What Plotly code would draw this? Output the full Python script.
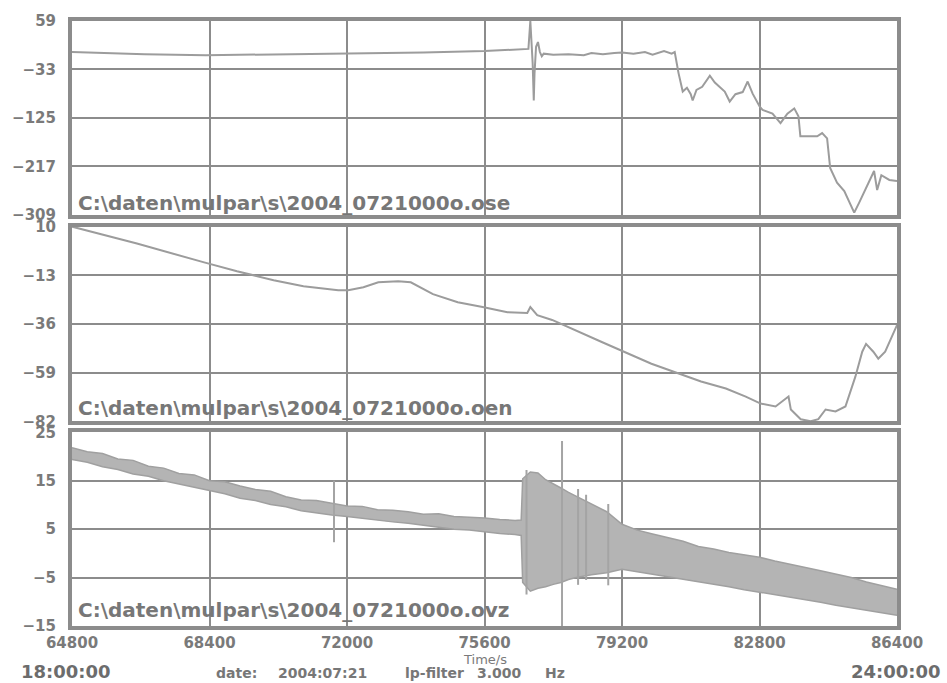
import plotly.graph_objects as go

# ---------------- data ----------------
# panel 1 (file ...o.ose)
t1 = [64800, 65600, 66700, 68300, 69800, 72000, 74000, 75600, 76400, 76750, 76800, 76830, 76860,
      76890, 76910, 76950, 77000, 77050, 77100, 77150, 77400, 77800, 78200, 78400, 78700, 79000,
      79200, 79500, 79800, 80000, 80300, 80500, 80580, 80680, 80790, 80900, 81000, 81050, 81150,
      81300, 81500, 81630, 81890, 82020, 82170, 82360, 82490, 82620, 82800, 82880, 83140, 83350,
      83530, 83710, 83820, 83870, 84050, 84310, 84440, 84570, 84650, 84830, 85020, 85150, 85280,
      85410, 85620, 85800, 85880, 85990, 86200, 86400]
v1 = [0, -2, -4, -6, -5, -3, -1, 2, 4, 6, 59, 20, -20,
      -92, -40, 10, 19, 0, -8, -3, -5, -4, -6, -2, -4, -2,
      -1, -3, 0, -5, 2, -3, 0, -40, -75, -68, -80, -92, -72,
      -66, -45, -58, -75, -94, -80, -76, -56, -79, -103, -110, -117, -135,
      -117, -107, -122, -160, -160, -160, -154, -164, -220, -248, -264, -286, -305,
      -286, -254, -226, -262, -234, -243, -245]

# panel 2 (file ...o.oen)
t2 = [64800, 66500, 68260, 69120, 70080, 70860, 71770, 72030, 72430, 72820, 73340, 73670, 74250,
      74900, 75550, 76200, 76720, 76800, 76980, 77370, 78670, 79970, 81270, 81920, 82440, 82830,
      83220, 83560, 83620, 83880, 84140, 84340, 84530, 84790, 85050, 85310, 85490, 85590, 85780,
      85910, 86090, 86400]
v2 = [10, 2, -6.9, -11.1, -15.3, -18.2, -20.0, -20.0, -18.6, -16.3, -15.8, -16.3, -21.9,
      -25.7, -28.0, -30.4, -30.8, -28.0, -31.8, -34.1, -44.5, -54.8, -63.2, -66.5, -70.3, -73.6,
      -75.0, -70.3, -76.4, -81.0, -82.0, -81.0, -76.4, -77.3, -75.0, -60.9, -49.1, -45.4, -49.1,
      -52.4, -49.1, -36.5]

# panel 3 (file ...o.ovz): upper / lower envelope of the dense trace
t3 = [64800, 65200, 65600, 66000, 66400, 66800, 67200, 67600, 68000, 68400, 68800, 69200, 69600,
      70000, 70400, 70800, 71200, 71600, 72000, 72400, 72800, 73200, 73600, 74000, 74400, 74800,
      75200, 75600, 76000, 76400, 76560, 76600, 76800, 77000, 77200, 77400, 77600, 77800, 78000,
      78400, 78800, 79200, 79600, 80000, 80400, 80800, 81200, 81600, 82000, 82400, 82800, 83200,
      83600, 84000, 84400, 84800, 85200, 85600, 86000, 86400]
hi3 = [21.8, 21.0, 20.6, 19.5, 19.2, 18.0, 17.6, 16.5, 16.2, 15.0, 14.8, 13.9, 13.2,
       12.8, 11.7, 11.0, 10.9, 10.3, 9.8, 9.7, 9.0, 8.9, 8.6, 8.1, 8.2, 7.6,
       7.5, 7.3, 7.0, 6.8, 6.9, 15.4, 16.8, 16.6, 15.2, 14.4, 13.5, 12.6, 11.8,
       10.2, 8.6, 6.0, 4.8, 4.0, 3.2, 2.5, 1.4, 0.9, 0.2, -0.3, -0.8, -1.6,
       -2.2, -2.9, -3.6, -4.3, -5.0, -5.9, -6.6, -7.4]
lo3 = [19.4, 18.8, 17.9, 17.3, 16.4, 15.9, 15.0, 14.3, 13.7, 12.9, 12.3, 11.4, 10.9,
       10.1, 9.6, 8.8, 8.3, 7.9, 7.6, 7.2, 6.8, 6.5, 6.2, 5.8, 5.5, 5.0,
       4.8, 4.4, 4.1, 3.9, 3.7, -6.0, -7.8, -7.2, -6.9, -6.4, -6.0, -5.4, -5.0,
       -4.4, -4.0, -3.3, -3.8, -4.4, -4.9, -5.3, -5.8, -6.4, -6.9, -7.5, -8.0, -8.6,
       -9.1, -9.6, -10.1, -10.7, -11.2, -11.8, -12.3, -12.8]
# isolated spikes in panel 3
spike_t = [71660, 76700, 77630, 78050, 78260, 78840]
spike_lo = [2.3, -8.5, -15.0, -6.5, -5.5, -6.6]
spike_hi = [15.0, 17.2, 23.2, 13.3, 12.1, 10.2]

# axes
xticks = [64800, 68400, 72000, 75600, 79200, 82800, 86400]
yticks1 = [59, -33, -125, -217, -309]
yticks2 = [10, -13, -36, -59, -82]
yticks3 = [25, 15, 5, -5, -15]
labels = ["C:\\daten\\mulpar\\s\\2004_0721000o.ose",
          "C:\\daten\\mulpar\\s\\2004_0721000o.oen",
          "C:\\daten\\mulpar\\s\\2004_0721000o.ovz"]

# ---------------- figure ----------------
LINE = "#9c9c9c"
GRID = "#8c8c8c"
TXT = "#7a7a7a"
FONT = "DejaVu Sans"

fig = go.Figure()
fig.add_trace(go.Scatter(x=t1, y=v1, mode="lines", line=dict(color=LINE, width=2),
                         xaxis="x", yaxis="y", showlegend=False))
fig.add_trace(go.Scatter(x=t2, y=v2, mode="lines", line=dict(color=LINE, width=2),
                         xaxis="x2", yaxis="y2", showlegend=False))
fig.add_trace(go.Scatter(x=t3, y=lo3, mode="lines", line=dict(color="#a0a0a0", width=1.5),
                         xaxis="x3", yaxis="y3", showlegend=False))
fig.add_trace(go.Scatter(x=t3, y=hi3, mode="lines", line=dict(color="#a0a0a0", width=1.5),
                         fill="tonexty", fillcolor="#b4b4b4",
                         xaxis="x3", yaxis="y3", showlegend=False))
sx, sy = [], []
for t, lo, hi in zip(spike_t, spike_lo, spike_hi):
    sx += [t, t, None]
    sy += [lo, hi, None]
fig.add_trace(go.Scatter(x=sx, y=sy, mode="lines", line=dict(color="#a4a4a4", width=2),
                         xaxis="x3", yaxis="y3", showlegend=False))

tickfont = dict(family=FONT, size=15, color=TXT, weight="bold")


def xax(anchor, show):
    return dict(range=[64800, 86400], tickvals=xticks, ticktext=[str(v) for v in xticks],
                showticklabels=show,
                showgrid=True, gridcolor=GRID, gridwidth=2, zeroline=False,
                showline=True, mirror=True, linewidth=4, linecolor=GRID,
                ticks="", tickfont=tickfont, anchor=anchor)


def yax(rng, vals, dom, anchor):
    return dict(range=rng, tickvals=vals, domain=dom, showgrid=True, gridcolor=GRID,
                gridwidth=2, zeroline=False, showline=True, mirror=True, linewidth=4,
                linecolor=GRID, ticks="outside", ticklen=9, tickcolor="rgba(0,0,0,0)",
                tickfont=tickfont, anchor=anchor)


fig.update_layout(
    width=947, height=683,
    margin=dict(l=67, r=50, t=17, b=57),
    paper_bgcolor="white", plot_bgcolor="white",
    xaxis=xax("y", False),
    xaxis2=xax("y2", False),
    xaxis3=xax("y3", True),
    yaxis=yax([-309, 59], yticks1, [0.6798, 1.0], "x"),
    yaxis2=yax([-82, 10], yticks2, [0.3383, 0.6601], "x2"),
    yaxis3=yax([-15, 25], yticks3, [0.0, 0.3202], "x3"),
)

ann = []
for lab, yp in zip(labels, [0.6995, 0.3596, 0.0263]):
    ann.append(dict(text=lab, x=(71 - 67) / 830, y=yp, xref="paper", yref="paper",
                    xanchor="left", yanchor="middle", showarrow=False,
                    font=dict(family=FONT, size=20, color="#777777", weight="bold")))

foot = dict(family=FONT, size=14, color="#777777", weight="bold")
ann.append(dict(text="Time/s", x=(482 - 67) / 830, y=(626 - 660) / 609, xref="paper", yref="paper",
                xanchor="center", yanchor="middle", showarrow=False,
                font=dict(family=FONT, size=13, color=TXT)))
for txt, px in [("date:", 210), ("2004:07:21", 272), ("lp-filter", 400), ("3.000", 472), ("Hz", 541)]:
    ann.append(dict(text=txt, x=(px - 67) / 830, y=(626 - 673) / 609, xref="paper", yref="paper",
                    xanchor="left", yanchor="middle", showarrow=False, font=foot))
ann.append(dict(text="18:00:00", x=(14 - 67) / 830, y=(626 - 672) / 609, xref="paper", yref="paper",
                xanchor="left", yanchor="middle", showarrow=False,
                font=dict(family=FONT, size=18, color="#6c6c6c", weight="bold")))
ann.append(dict(text="24:00:00", x=(943 - 67) / 830, y=(626 - 672) / 609, xref="paper", yref="paper",
                xanchor="right", yanchor="middle", showarrow=False,
                font=dict(family=FONT, size=18, color="#6c6c6c", weight="bold")))
fig.update_layout(annotations=ann)

fig.write_html("out.html", config={"displayModeBar": False},
               post_script="document.body.style.margin='0';document.body.style.padding='0';")
